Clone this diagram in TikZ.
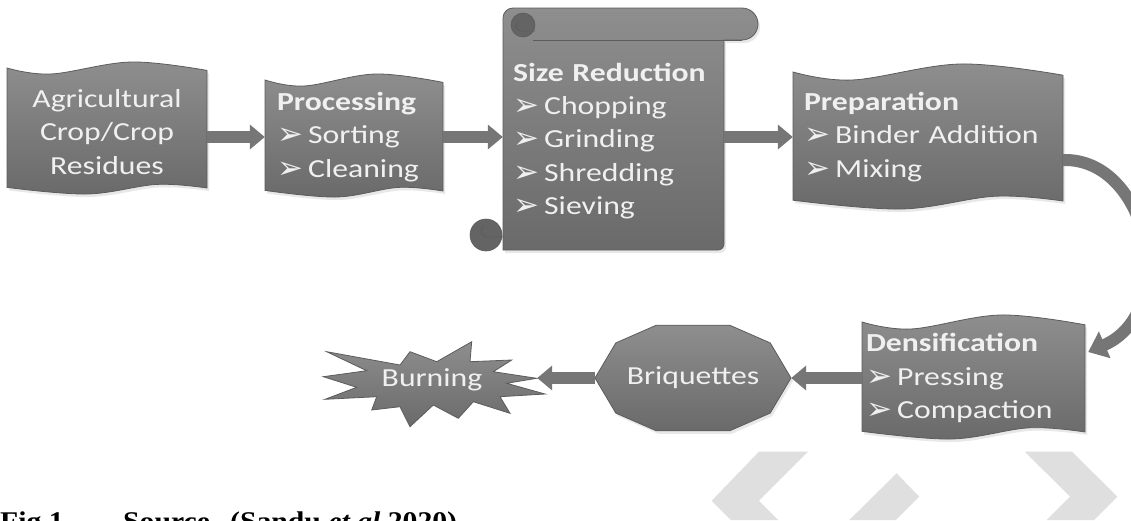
\documentclass[tikz,border=0pt]{standalone}
\usepackage{fontspec}
\setmainfont{Carlito}[FakeStretch=1.22]
\newfontfamily\dejavu{DejaVu Sans}
\newfontfamily\capfont{Liberation Serif}[FakeStretch=1.1]
\usetikzlibrary{arrows.meta}

\definecolor{boxtop}{RGB}{142,142,142}
\definecolor{boxbot}{RGB}{106,106,106}
\definecolor{boxline}{RGB}{92,92,92}
\definecolor{arrowc}{RGB}{118,118,118}
\definecolor{curlc}{RGB}{100,100,100}
\definecolor{txt}{RGB}{240,240,240}
\definecolor{wm}{RGB}{223,223,223}

\newcommand\boxfont{\fontsize{26}{33.4}\selectfont}
\newcommand\bul{\raisebox{-1pt}{\dejavu\fontsize{31}{31}\selectfont ➢}\hspace{0.2em}}
\newcommand\waveshape[6]{\path[#1] plot[smooth,tension=0.6] coordinates {(#2,#4) ({#2+0.22*(#3-#2)},{#4+#6}) ({#2+0.62*(#3-#2)},{#4-#6}) (#3,{#4+0.4*#6})} -- plot[smooth,tension=0.6] coordinates {(#3,#5) ({#2+0.75*(#3-#2)},{#5-0.6*#6}) ({#2+0.4*(#3-#2)},{#5+#6}) (#2,{#5-0.1*#6})} -- cycle;}

\tikzset{
  shapefill/.style={top color=boxtop, bottom color=boxbot, draw=boxline, line width=0.8pt},
  shadowfill/.style={fill=black!9},
  flowarrow/.style={draw=arrowc, line width=12pt, -{Triangle[width=24pt,length=15pt]}},
  curvearrow/.style={draw=arrowc, line width=12pt, -{Triangle[width=28pt,length=18pt]}},
  boxtext/.style={text=txt, inner ysep=0pt, font=\boxfont},
  wmark/.style={fill=wm},
  curl/.style={fill=curlc, draw=boxline, line width=0.6pt},
  curlline/.style={draw=boxline, line width=0.9pt},
  captext/.style={font=\capfont\bfseries\fontsize{27}{30}\selectfont, anchor=base west, inner sep=0pt}
}

\begin{document}
\begin{tikzpicture}[x=1pt,y=-1pt]
\useasboundingbox[fill=white] (0,0) rectangle (1131,520);

% watermark
\path[wmark] (758.9,451.7) -- (807.9,451.7) -- (758.9,500.7) -- (778.2,520) -- (730.9,520) -- (711.7,500.7) -- cycle;
\path[wmark] (849.4,520) -- (896.6,473.3) -- (919.2,496.7) -- (895.9,520) -- cycle;
\path[wmark] (1024.9,451.7) -- (1072,451.7) -- (1117.4,496.7) -- (1094.1,520) -- (1046.7,520) -- (1070,496.7) -- cycle;

% shadows
\waveshape{shadowfill,xshift=2pt,yshift=-3pt}{7}{207}{68}{188}{6}
\waveshape{shadowfill,xshift=2pt,yshift=-3pt}{265}{443}{80}{191}{6}
\waveshape{shadowfill,xshift=2pt,yshift=-3pt}{793}{1063}{72}{201}{8}
\waveshape{shadowfill,xshift=2pt,yshift=-3pt}{862}{1085}{322}{432}{7}

% wave boxes
\waveshape{shapefill}{7}{207}{68}{188}{6}
\waveshape{shapefill}{265}{443}{80}{191}{6}
\waveshape{shapefill}{793}{1063}{72}{201}{8}
\waveshape{shapefill}{862}{1085}{322}{432}{7}

% scroll
\path[shadowfill,xshift=2pt,yshift=-3pt] (503,250) -- (503,18) arc[start angle=180,end angle=90,radius=10pt] -- (742,8) arc[start angle=90,end angle=-90,radius=16pt] -- (724,40) -- (724,244) arc[start angle=0,end angle=-90,radius=6pt] -- cycle;
\path[shapefill] (503,250) -- (503,18) arc[start angle=180,end angle=90,radius=10pt] -- (742,8) arc[start angle=90,end angle=-90,radius=16pt] -- (724,40) -- (724,244) arc[start angle=0,end angle=-90,radius=6pt] -- cycle;
\draw[curlline] (533,40) -- (742,40);
\path[curl] (523,25) circle[radius=12pt];
\draw[curlline] (535,31) -- (521,31) arc[start angle=270,end angle=120,radius=5pt];
\path[curl] (486,235) circle[radius=16pt];
\draw[curlline] (503,237) -- (487,237) arc[start angle=270,end angle=120,radius=6pt];

% briquettes (decagon)
\path[shadowfill,xshift=2pt,yshift=-3pt] (791,378) -- (770.2,342.9) -- (729.7,325.2) -- (656.3,325.2) -- (615.8,342.9) -- (595,378) -- (615.8,413.1) -- (656.3,430.8) -- (729.7,430.8) -- (770.2,413.1) -- cycle;
\path[shapefill] (791,378) -- (770.2,342.9) -- (729.7,325.2) -- (656.3,325.2) -- (615.8,342.9) -- (595,378) -- (615.8,413.1) -- (656.3,430.8) -- (729.7,430.8) -- (770.2,413.1) -- cycle;

% burning (explosion)
\path[shapefill] (326.7,351.7) -- (400,365) -- (410,351.7) -- (436.7,361.7) -- (471.7,341.7) -- (470,361.7) -- (511.7,360) -- (493.3,371.7) -- (536.7,378.3) -- (506.7,383.3) -- (545,394) -- (500,396.7) -- (510,413.3) -- (473.3,401.7) -- (458.3,418.3) -- (433.3,405) -- (410,426.7) -- (400,406.7) -- (371.7,410) -- (376.7,396.7) -- (325,399.3) -- (356.7,387.3) -- (323.3,376.7) -- (366.7,370.7) -- cycle;

% text nodes
\node[boxtext, align=center, minimum width=200pt] (agri) at (107,132) {Agricultural\\Crop/Crop\\Residues};
\node[boxtext, align=left, text width=154pt, inner xsep=12pt] (proc) at (354,137) {\textbf{Processing}\\\bul Sorting\\\bul Cleaning};
\node[boxtext, align=left, text width=201pt, inner xsep=10pt] (size) at (613.5,141) {\textbf{Size Reduction}\\\bul Chopping\\\bul Grinding\\\bul Shredding\\\bul Sieving};
\node[boxtext, align=left, text width=248pt, inner xsep=11pt] (prep) at (928,137) {\textbf{Preparation}\\\bul Binder Addition\\\bul Mixing};
\node[boxtext, align=left, text width=215pt, inner xsep=4pt] (dens) at (973.5,378) {\textbf{Densification}\\\bul Pressing\\\bul Compaction};
\node[boxtext, minimum width=196pt] (brq) at (693,378) {Briquettes};
\node[boxtext, minimum width=210pt] (burn) at (432,380) {Burning};

% connectors
\draw[flowarrow] (agri.east |- proc.west) -- (proc.west);
\draw[flowarrow] (proc.east) -- (proc.east -| size.west);
\draw[flowarrow] (size.east |- prep.west) -- (prep.west);
\draw[curvearrow] ([yshift=-23pt]prep.east) .. controls +(86,-2) and +(92,-40) .. ([xshift=3pt,yshift=26pt]dens.east);
\draw[flowarrow] (dens.west) -- (brq.east);
\draw[flowarrow] (brq.west) -- (brq.west -| burn.east);

% caption
\node[captext] (capfig) at (0,530) {Fig.1};
\node[captext] (capsrc) at (123,530) {Source};
\node[captext] (capref) at (230,530) {(Sandu \textit{et al} 2020)};
\end{tikzpicture}
\end{document}
